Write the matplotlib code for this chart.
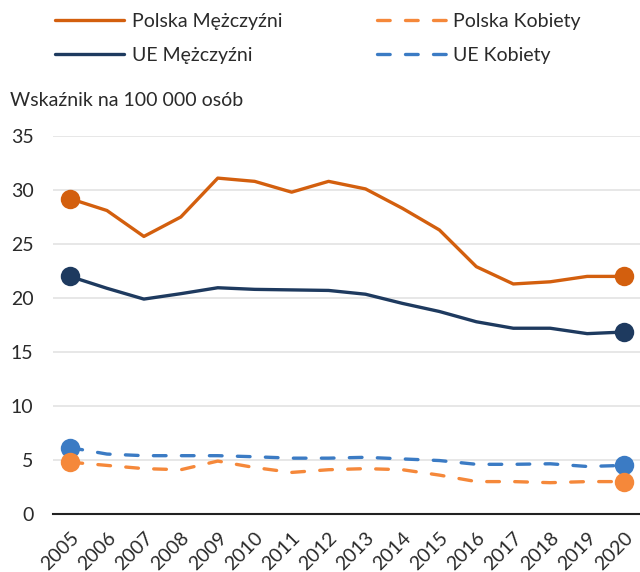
import matplotlib
matplotlib.use("Agg")
import matplotlib.pyplot as plt
from matplotlib.lines import Line2D

plt.rcParams['font.family'] = ['Lato', 'DejaVu Sans']

years = list(range(2005, 2021))
pl_m = [29.2, 28.1, 25.7, 27.5, 31.1, 30.8, 29.8, 30.8, 30.1, 28.3, 26.3, 22.9, 21.3, 21.5, 22.0, 22.0]
pl_k = [4.8, 4.5, 4.2, 4.1, 4.9, 4.3, 3.85, 4.1, 4.2, 4.1, 3.6, 3.0, 3.0, 2.9, 3.0, 3.0]
ue_m = [22.0, 20.9, 19.9, 20.4, 20.95, 20.8, 20.75, 20.7, 20.35, 19.5, 18.75, 17.8, 17.2, 17.2, 16.7, 16.85]
ue_k = [6.15, 5.55, 5.4, 5.4, 5.4, 5.3, 5.17, 5.17, 5.25, 5.1, 4.95, 4.6, 4.6, 4.65, 4.4, 4.5]

labels = ["Polska Mężczyźni", "Polska Kobiety", "UE Mężczyźni", "UE Kobiety"]
colors = ["#D35F0E", "#F5883A", "#1E3A5F", "#3B7BC4"]
series = [pl_m, pl_k, ue_m, ue_k]
dashed = [False, True, False, True]

FS = 14
fig = plt.figure(figsize=(6.4, 5.72), dpi=100)
ax = fig.add_axes([53/640, 1 - 514/572, 1 - 53/640, (514 - 136)/572])

lw = 2.4
dash = (3.8, 4.6)
order = [3, 1, 2, 0]
for i in order:
    kw = dict(color=colors[i], lw=lw, solid_capstyle='round', dash_capstyle='round', zorder=3)
    if dashed[i]:
        ax.plot(years, series[i], dashes=dash, **kw)
    else:
        ax.plot(years, series[i], **kw)
    ax.plot([years[0], years[-1]], [series[i][0], series[i][-1]], 'o', ms=14,
            color=colors[i], mec='none', zorder=4, clip_on=False)

ax.set_xlim(2005 - 0.46, 2020 + 0.43)
ax.set_ylim(0, 35)
ax.set_yticks(range(0, 36, 5))
ax.set_xticks(years)
ax.set_xticklabels([str(y) for y in years], rotation=45, ha='right', va='top',
                   rotation_mode='anchor')
ax.tick_params(axis='both', length=0, labelsize=FS, colors='#2a2a2a')
ax.tick_params(axis='y', pad=14)
ax.tick_params(axis='x', pad=11)
ax.grid(axis='y', color='#E3E3E3', lw=1.2, zorder=0)
for s in ['top', 'right', 'left']:
    ax.spines[s].set_visible(False)
ax.spines['bottom'].set_color('#222222')
ax.spines['bottom'].set_linewidth(1.5)
ax.spines['bottom'].set_zorder(2)
ax.set_axisbelow(True)

handles = []
for i in range(4):
    if dashed[i]:
        h = Line2D([0], [0], color=colors[i], lw=lw, dashes=dash, dash_capstyle='round')
    else:
        h = Line2D([0], [0], color=colors[i], lw=lw, solid_capstyle='round')
    handles.append(h)
leg_order = [0, 2, 1, 3]
fig.legend([handles[i] for i in leg_order], [labels[i] for i in leg_order], ncol=2,
           loc='upper left', bbox_to_anchor=(55/640, 1 - 13/572),
           frameon=False, fontsize=FS, handlelength=3.55, handletextpad=0.4,
           columnspacing=4.85, labelspacing=0.85, borderaxespad=0, borderpad=0,
           labelcolor='#2a2a2a')

fig.text(10/640, 1 - 100/572, "Wskaźnik na 100 000 osób", fontsize=FS, va='center',
         ha='left', color='#2a2a2a')

fig.savefig("out.png", dpi=100)
